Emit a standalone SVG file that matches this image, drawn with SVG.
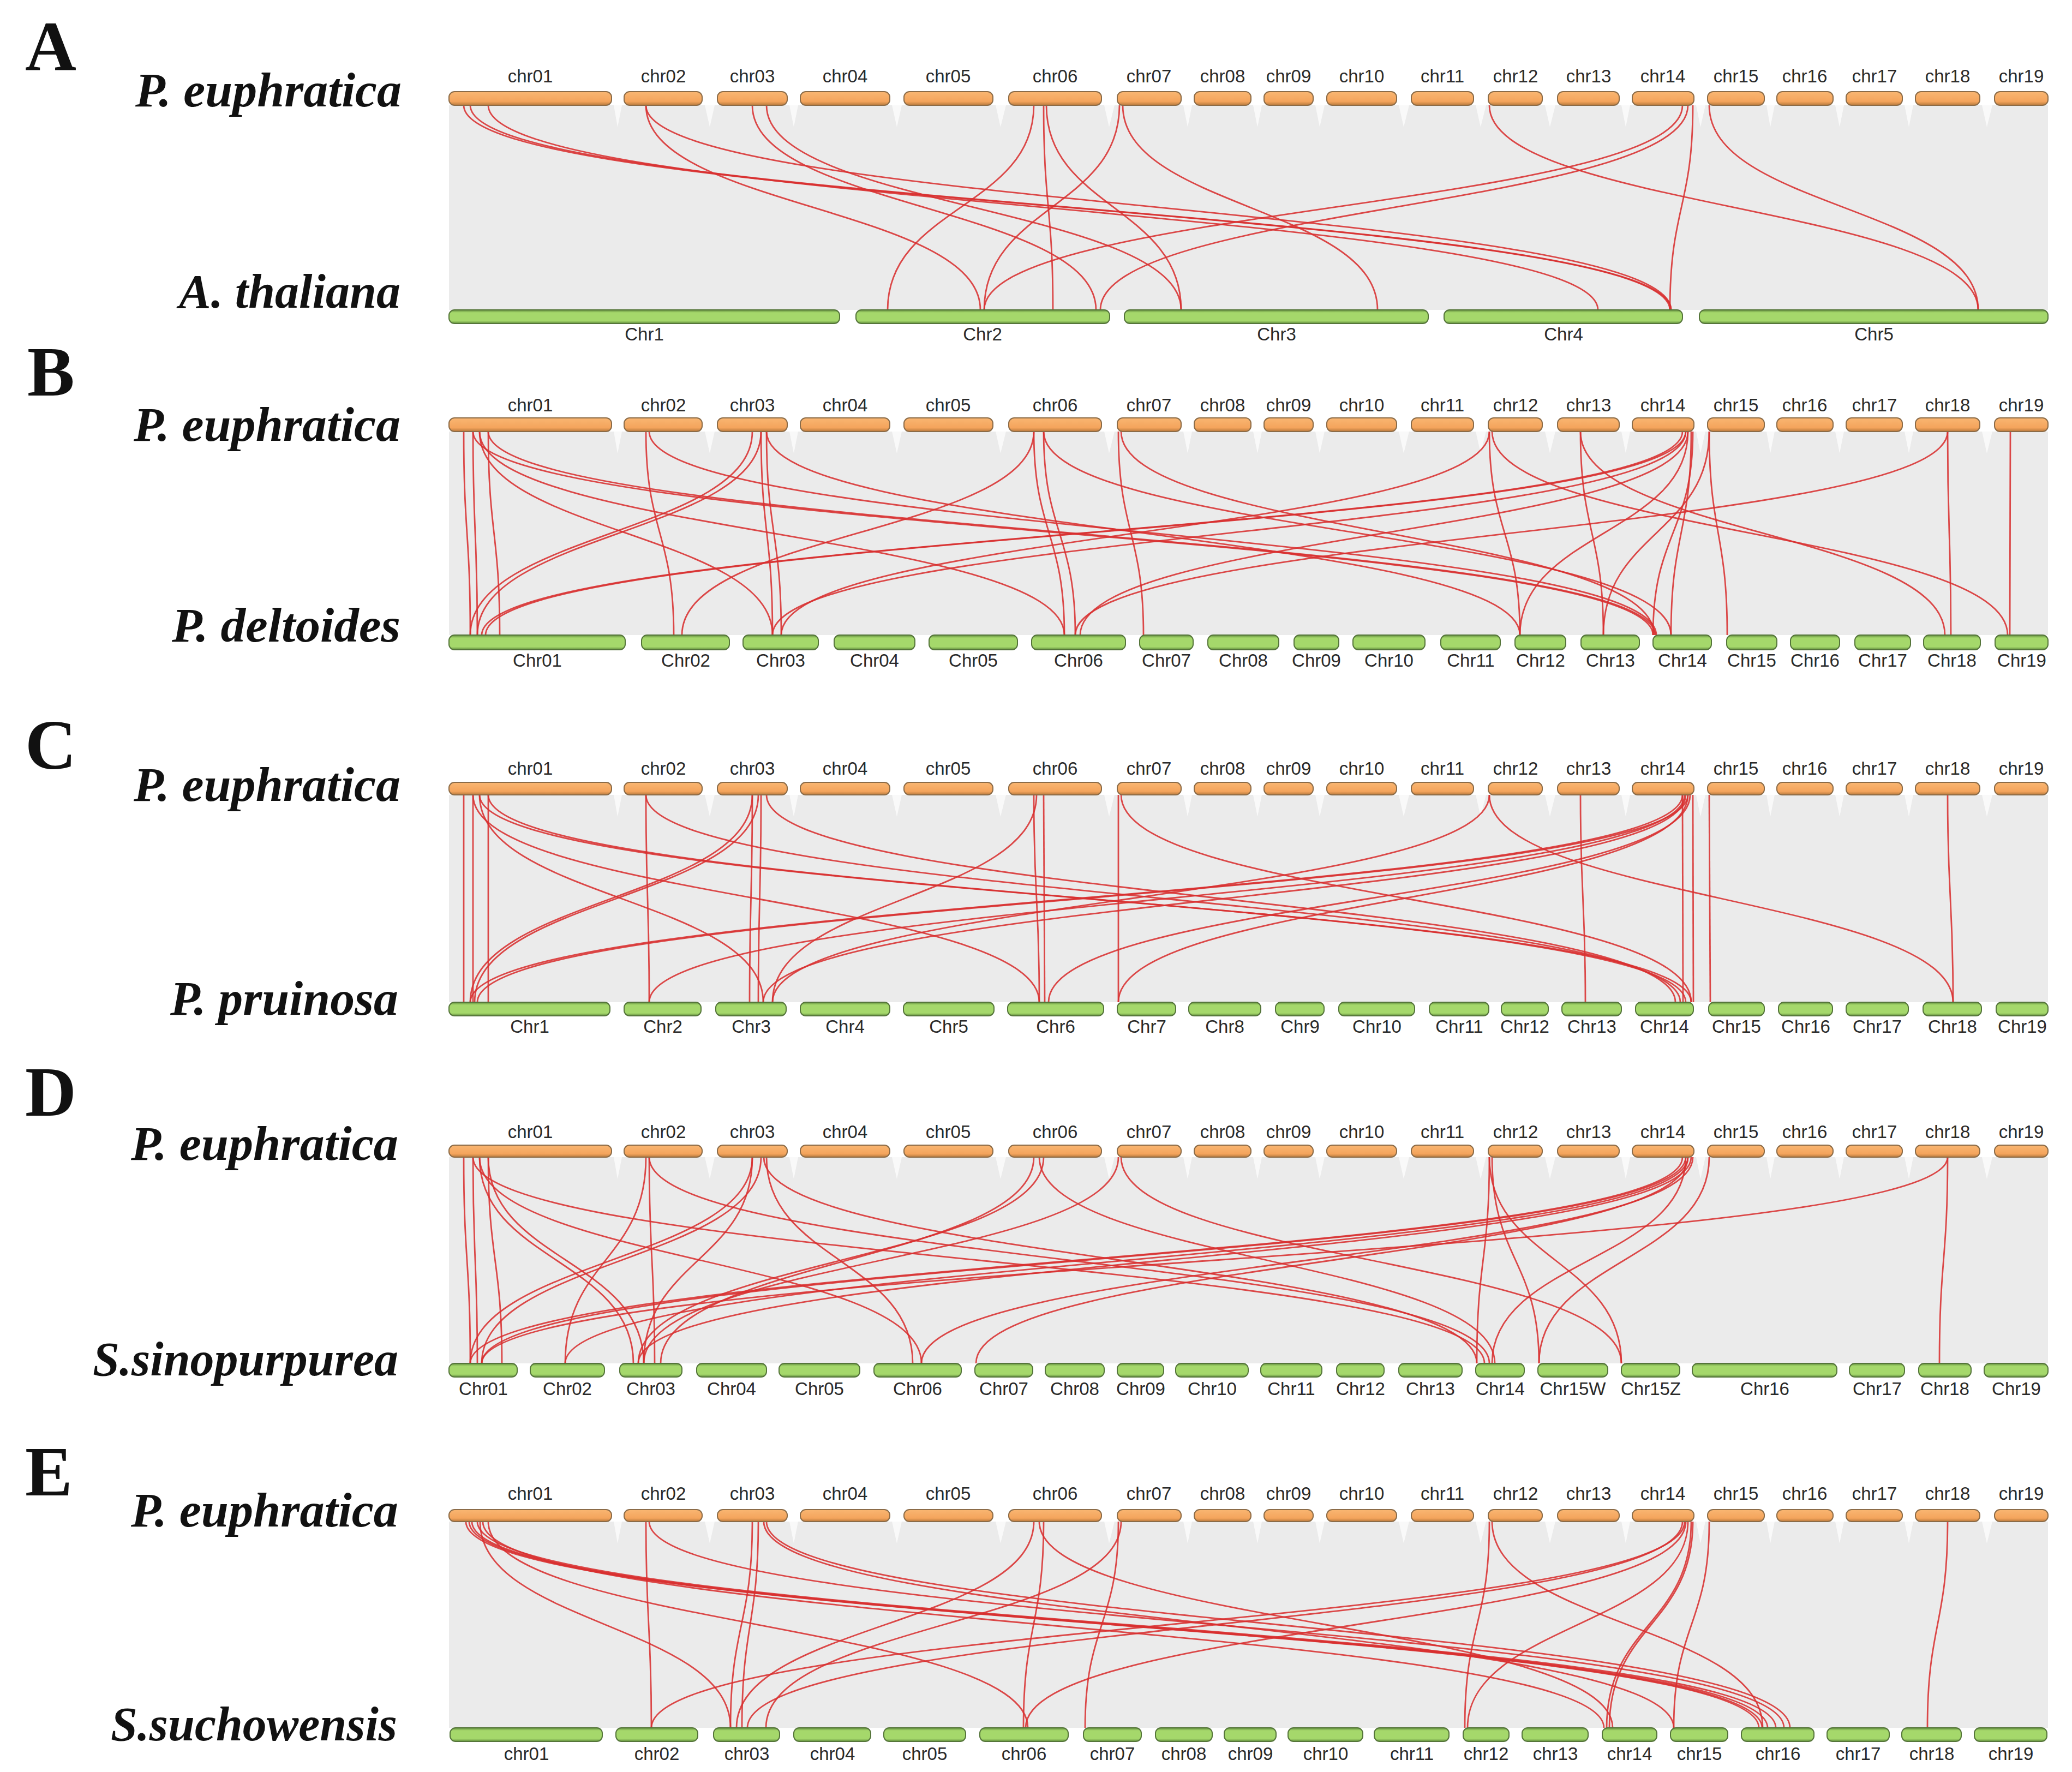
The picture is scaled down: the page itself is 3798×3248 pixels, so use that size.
<svg xmlns="http://www.w3.org/2000/svg" width="3798" height="3248" viewBox="0 0 3798 3248">
<defs>
<linearGradient id="og" x1="0" y1="0" x2="0" y2="1"><stop offset="0" stop-color="#f9b672"/><stop offset="0.72" stop-color="#f4a45c"/><stop offset="1" stop-color="#b87a3d"/></linearGradient>
<linearGradient id="gg" x1="0" y1="0" x2="0" y2="1"><stop offset="0" stop-color="#5f8b3c"/><stop offset="0.2" stop-color="#a5d86b"/><stop offset="0.8" stop-color="#a5d86b"/><stop offset="1" stop-color="#5f8b3c"/></linearGradient>
<g id="tw" fill="#ffffff" opacity="0.7">
<polygon points="1125,0 1140,0 1132,40"/><polygon points="1292,0 1310,0 1301,40"/><polygon points="1447,0 1463,0 1455,40"/><polygon points="1635,0 1653,0 1644,40"/><polygon points="1825,0 1844,0 1834,40"/><polygon points="2024,0 2043,0 2033,40"/><polygon points="2169,0 2185,0 2177,40"/><polygon points="2297,0 2313,0 2305,40"/><polygon points="2411,0 2428,0 2419,40"/><polygon points="2564,0 2583,0 2573,40"/><polygon points="2705,0 2724,0 2714,40"/><polygon points="2832,0 2851,0 2841,40"/><polygon points="2972,0 2988,0 2980,40"/><polygon points="3109,0 3126,0 3117,40"/><polygon points="3238,0 3253,0 3245,40"/><polygon points="3364,0 3380,0 3372,40"/><polygon points="3491,0 3507,0 3499,40"/><polygon points="3633,0 3652,0 3642,40"/>
</g>
<style>
.l{fill:none;stroke:#d83030;stroke-width:2.8;opacity:.88}
.bg{fill:#ebebeb}
.o{fill:url(#og);stroke:#8b6b47;stroke-width:2}
.g{fill:url(#gg);stroke:#55753a;stroke-width:2}
.cl{font-family:"Liberation Sans",Arial,sans-serif;font-size:33px;fill:#2a2a2a;text-anchor:middle}
.sp{font-family:"Liberation Serif","Times New Roman",serif;font-weight:bold;font-style:italic;font-size:88px;fill:#111;text-anchor:end}
.pl{font-family:"Liberation Serif","Times New Roman",serif;font-weight:bold;font-size:130px;fill:#111}
</style>
</defs>
<rect width="3798" height="3248" fill="#ffffff"/>
<g id="backgrounds">
<rect class="bg" x="823" y="193" width="2931" height="375"/>
<rect class="bg" x="823" y="791" width="2931" height="373"/>
<rect class="bg" x="823" y="1457" width="2931" height="380"/>
<rect class="bg" x="823" y="2121" width="2931" height="378"/>
<rect class="bg" x="823" y="2789" width="2931" height="378"/>
<use href="#tw" y="193"/>
<use href="#tw" y="791"/>
<use href="#tw" y="1457"/>
<use href="#tw" y="2121"/>
<use href="#tw" y="2789"/>
</g>
<g id="labels">
<text class="pl" x="46" y="128">A</text>
<text class="pl" x="50" y="725">B</text>
<text class="pl" x="46" y="1409">C</text>
<text class="pl" x="46" y="2045">D</text>
<text class="pl" x="46" y="2741">E</text>
<text class="sp" x="736" y="195" textLength="488" lengthAdjust="spacingAndGlyphs">P. euphratica</text>
<text class="sp" x="734" y="564" textLength="406" lengthAdjust="spacingAndGlyphs">A. thaliana</text>
<text class="sp" x="734" y="808" textLength="489" lengthAdjust="spacingAndGlyphs">P. euphratica</text>
<text class="sp" x="734" y="1176" textLength="419" lengthAdjust="spacingAndGlyphs">P. deltoides</text>
<text class="sp" x="734" y="1468" textLength="489" lengthAdjust="spacingAndGlyphs">P. euphratica</text>
<text class="sp" x="730" y="1860" textLength="418" lengthAdjust="spacingAndGlyphs">P. pruinosa</text>
<text class="sp" x="730" y="2126" textLength="490" lengthAdjust="spacingAndGlyphs">P. euphratica</text>
<text class="sp" x="730" y="2521" textLength="560" lengthAdjust="spacingAndGlyphs">S.sinopurpurea</text>
<text class="sp" x="730" y="2798" textLength="490" lengthAdjust="spacingAndGlyphs">P. euphratica</text>
<text class="sp" x="728" y="3190" textLength="525" lengthAdjust="spacingAndGlyphs">S.suchowensis</text>
</g>
<g id="connectors">
<path class="l" d="M850 193C850 380 3061 380 3061 568"/>
<path class="l" d="M862 193C862 380 3063 380 3063 568"/>
<path class="l" d="M895 193C895 380 2929 380 2929 568"/>
<path class="l" d="M1184 193C1184 380 3063 380 3063 568"/>
<path class="l" d="M1184 193C1184 380 1797 380 1797 568"/>
<path class="l" d="M1379 193C1379 380 2009 380 2009 568"/>
<path class="l" d="M1405 193C1405 380 2165 380 2165 568"/>
<path class="l" d="M1895 193C1895 380 1627 380 1627 568"/>
<path class="l" d="M1913 193C1913 380 1930 380 1930 568"/>
<path class="l" d="M1918 193C1918 380 2165 380 2165 568"/>
<path class="l" d="M2052 193C2052 380 1804 380 1804 568"/>
<path class="l" d="M2058 193C2058 380 2525 380 2525 568"/>
<path class="l" d="M2730 193C2730 380 3626 380 3626 568"/>
<path class="l" d="M3084 193C3084 380 1804 380 1804 568"/>
<path class="l" d="M3094 193C3094 380 2017 380 2017 568"/>
<path class="l" d="M3103 193C3103 380 3061 380 3061 568"/>
<path class="l" d="M3133 193C3133 380 3626 380 3626 568"/>

<path class="l" d="M850 791C850 977 862 977 862 1164"/>
<path class="l" d="M867 791C867 977 875 977 875 1164"/>
<path class="l" d="M895 791C895 977 916 977 916 1164"/>
<path class="l" d="M879 791C879 977 1416 977 1416 1164"/>
<path class="l" d="M879 791C879 977 1951 977 1951 1164"/>
<path class="l" d="M867 791C867 977 3030 977 3030 1164"/>
<path class="l" d="M895 791C895 977 3034 977 3034 1164"/>
<path class="l" d="M1184 791C1184 977 1235 977 1235 1164"/>
<path class="l" d="M1190 791C1190 977 3036 977 3036 1164"/>
<path class="l" d="M1379 791C1379 977 862 977 862 1164"/>
<path class="l" d="M1395 791C1395 977 875 977 875 1164"/>
<path class="l" d="M1405 791C1405 977 1432 977 1432 1164"/>
<path class="l" d="M1395 791C1395 977 1416 977 1416 1164"/>
<path class="l" d="M1405 791C1405 977 2786 977 2786 1164"/>
<path class="l" d="M1895 791C1895 977 1951 977 1951 1164"/>
<path class="l" d="M1913 791C1913 977 1971 977 1971 1164"/>
<path class="l" d="M1895 791C1895 977 1250 977 1250 1164"/>
<path class="l" d="M1913 791C1913 977 3063 977 3063 1164"/>
<path class="l" d="M2050 791C2050 977 2096 977 2096 1164"/>
<path class="l" d="M2055 791C2055 977 3032 977 3032 1164"/>
<path class="l" d="M2730 791C2730 977 2786 977 2786 1164"/>
<path class="l" d="M2730 791C2730 977 1432 977 1432 1164"/>
<path class="l" d="M2897 791C2897 977 2939 977 2939 1164"/>
<path class="l" d="M2897 791C2897 977 3565 977 3565 1164"/>
<path class="l" d="M3084 791C3084 977 883 977 883 1164"/>
<path class="l" d="M3090 791C3090 977 890 977 890 1164"/>
<path class="l" d="M3094 791C3094 977 1980 977 1980 1164"/>
<path class="l" d="M3103 791C3103 977 3030 977 3030 1164"/>
<path class="l" d="M3100 791C3100 977 3063 977 3063 1164"/>
<path class="l" d="M3094 791C3094 977 2786 977 2786 1164"/>
<path class="l" d="M3133 791C3133 977 3166 977 3166 1164"/>
<path class="l" d="M3133 791C3133 977 2939 977 2939 1164"/>
<path class="l" d="M3570 791C3570 977 3576 977 3576 1164"/>
<path class="l" d="M3570 791C3570 977 1971 977 1971 1164"/>
<path class="l" d="M3685 791C3685 977 3684 977 3684 1164"/>
<path class="l" d="M2735 791C2735 977 3680 977 3680 1164"/>
<path class="l" d="M3090 791C3090 977 1416 977 1416 1164"/>

<path class="l" d="M850 1457C850 1647 850 1647 850 1837"/>
<path class="l" d="M867 1457C867 1647 867 1647 867 1837"/>
<path class="l" d="M895 1457C895 1647 895 1647 895 1837"/>
<path class="l" d="M879 1457C879 1647 3100 1647 3100 1837"/>
<path class="l" d="M879 1457C879 1647 1399 1647 1399 1837"/>
<path class="l" d="M895 1457C895 1647 3090 1647 3090 1837"/>
<path class="l" d="M1184 1457C1184 1647 1190 1647 1190 1837"/>
<path class="l" d="M1184 1457C1184 1647 3080 1647 3080 1837"/>
<path class="l" d="M1379 1457C1379 1647 1374 1647 1374 1837"/>
<path class="l" d="M1395 1457C1395 1647 1390 1647 1390 1837"/>
<path class="l" d="M1379 1457C1379 1647 862 1647 862 1837"/>
<path class="l" d="M1390 1457C1390 1647 870 1647 870 1837"/>
<path class="l" d="M1405 1457C1405 1647 3071 1647 3071 1837"/>
<path class="l" d="M1895 1457C1895 1647 1905 1647 1905 1837"/>
<path class="l" d="M1913 1457C1913 1647 1915 1647 1915 1837"/>
<path class="l" d="M1900 1457C1900 1647 1416 1647 1416 1837"/>
<path class="l" d="M2050 1457C2050 1647 2050 1647 2050 1837"/>
<path class="l" d="M2055 1457C2055 1647 3100 1647 3100 1837"/>
<path class="l" d="M2730 1457C2730 1647 1416 1647 1416 1837"/>
<path class="l" d="M2897 1457C2897 1647 2906 1647 2906 1837"/>
<path class="l" d="M3084 1457C3084 1647 862 1647 862 1837"/>
<path class="l" d="M3094 1457C3094 1647 875 1647 875 1837"/>
<path class="l" d="M3094 1457C3094 1647 2050 1647 2050 1837"/>
<path class="l" d="M3103 1457C3103 1647 3104 1647 3104 1837"/>
<path class="l" d="M3084 1457C3084 1647 3085 1647 3085 1837"/>
<path class="l" d="M3133 1457C3133 1647 3135 1647 3135 1837"/>
<path class="l" d="M3570 1457C3570 1647 3580 1647 3580 1837"/>
<path class="l" d="M2730 1457C2730 1647 3580 1647 3580 1837"/>
<path class="l" d="M3090 1457C3090 1647 1399 1647 1399 1837"/>
<path class="l" d="M867 1457C867 1647 1905 1647 1905 1837"/>
<path class="l" d="M3098 1457C3098 1647 1922 1647 1922 1837"/>
<path class="l" d="M3088 1457C3088 1647 1190 1647 1190 1837"/>

<path class="l" d="M850 2121C850 2310 862 2310 862 2499"/>
<path class="l" d="M867 2121C867 2310 875 2310 875 2499"/>
<path class="l" d="M879 2121C879 2310 1161 2310 1161 2499"/>
<path class="l" d="M895 2121C895 2310 1180 2310 1180 2499"/>
<path class="l" d="M879 2121C879 2310 1689 2310 1689 2499"/>
<path class="l" d="M895 2121C895 2310 920 2310 920 2499"/>
<path class="l" d="M867 2121C867 2310 2721 2310 2721 2499"/>
<path class="l" d="M1184 2121C1184 2310 1036 2310 1036 2499"/>
<path class="l" d="M1190 2121C1190 2310 1200 2310 1200 2499"/>
<path class="l" d="M1190 2121C1190 2310 2730 2310 2730 2499"/>
<path class="l" d="M1379 2121C1379 2310 862 2310 862 2499"/>
<path class="l" d="M1395 2121C1395 2310 883 2310 883 2499"/>
<path class="l" d="M1405 2121C1405 2310 1673 2310 1673 2499"/>
<path class="l" d="M1400 2121C1400 2310 2707 2310 2707 2499"/>
<path class="l" d="M1895 2121C1895 2310 1211 2310 1211 2499"/>
<path class="l" d="M1913 2121C1913 2310 1170 2310 1170 2499"/>
<path class="l" d="M1905 2121C1905 2310 2740 2310 2740 2499"/>
<path class="l" d="M2050 2121C2050 2310 1180 2310 1180 2499"/>
<path class="l" d="M2055 2121C2055 2310 2972 2310 2972 2499"/>
<path class="l" d="M2730 2121C2730 2310 2707 2310 2707 2499"/>
<path class="l" d="M2730 2121C2730 2310 2972 2310 2972 2499"/>
<path class="l" d="M2735 2121C2735 2310 2821 2310 2821 2499"/>
<path class="l" d="M3084 2121C3084 2310 862 2310 862 2499"/>
<path class="l" d="M3090 2121C3090 2310 883 2310 883 2499"/>
<path class="l" d="M3094 2121C3094 2310 1036 2310 1036 2499"/>
<path class="l" d="M3100 2121C3100 2310 1170 2310 1170 2499"/>
<path class="l" d="M3103 2121C3103 2310 1689 2310 1689 2499"/>
<path class="l" d="M3094 2121C3094 2310 1789 2310 1789 2499"/>
<path class="l" d="M3090 2121C3090 2310 2735 2310 2735 2499"/>
<path class="l" d="M3133 2121C3133 2310 2821 2310 2821 2499"/>
<path class="l" d="M3570 2121C3570 2310 3555 2310 3555 2499"/>
<path class="l" d="M3570 2121C3570 2310 883 2310 883 2499"/>
<path class="l" d="M1379 2121C1379 2310 1180 2310 1180 2499"/>

<path class="l" d="M854 2789C854 2978 3224 2978 3224 3167"/>
<path class="l" d="M860 2789C860 2978 3230 2978 3230 3167"/>
<path class="l" d="M865 2789C865 2978 3240 2978 3240 3167"/>
<path class="l" d="M875 2789C875 2978 3255 2978 3255 3167"/>
<path class="l" d="M880 2789C880 2978 1339 2978 1339 3167"/>
<path class="l" d="M895 2789C895 2978 1884 2978 1884 3167"/>
<path class="l" d="M885 2789C885 2978 2940 2978 2940 3167"/>
<path class="l" d="M1184 2789C1184 2978 1194 2978 1194 3167"/>
<path class="l" d="M1190 2789C1190 2978 3270 2978 3270 3167"/>
<path class="l" d="M1379 2789C1379 2978 1339 2978 1339 3167"/>
<path class="l" d="M1390 2789C1390 2978 1360 2978 1360 3167"/>
<path class="l" d="M1405 2789C1405 2978 3281 2978 3281 3167"/>
<path class="l" d="M1400 2789C1400 2978 3068 2978 3068 3167"/>
<path class="l" d="M1895 2789C1895 2978 1350 2978 1350 3167"/>
<path class="l" d="M1913 2789C1913 2978 1876 2978 1876 3167"/>
<path class="l" d="M1905 2789C1905 2978 2956 2978 2956 3167"/>
<path class="l" d="M2050 2789C2050 2978 1989 2978 1989 3167"/>
<path class="l" d="M2055 2789C2055 2978 1404 2978 1404 3167"/>
<path class="l" d="M2730 2789C2730 2978 2685 2978 2685 3167"/>
<path class="l" d="M2735 2789C2735 2978 3231 2978 3231 3167"/>
<path class="l" d="M3084 2789C3084 2978 1370 2978 1370 3167"/>
<path class="l" d="M3090 2789C3090 2978 1880 2978 1880 3167"/>
<path class="l" d="M3094 2789C3094 2978 2690 2978 2690 3167"/>
<path class="l" d="M3100 2789C3100 2978 2945 2978 2945 3167"/>
<path class="l" d="M3103 2789C3103 2978 2950 2978 2950 3167"/>
<path class="l" d="M3133 2789C3133 2978 3068 2978 3068 3167"/>
<path class="l" d="M3570 2789C3570 2978 3533 2978 3533 3167"/>
<path class="l" d="M3088 2789C3088 2978 1194 2978 1194 3167"/>
</g>

<!-- Panel A top -->
<g id="A-top-chr01"><rect class="o" x="823" y="168" width="298" height="25" rx="10"/><text class="cl" x="972" y="151">chr01</text></g>
<g id="A-top-chr02"><rect class="o" x="1144" y="168" width="143" height="25" rx="10"/><text class="cl" x="1216" y="151">chr02</text></g>
<g id="A-top-chr03"><rect class="o" x="1315" y="168" width="128" height="25" rx="10"/><text class="cl" x="1379" y="151">chr03</text></g>
<g id="A-top-chr04"><rect class="o" x="1467" y="168" width="164" height="25" rx="10"/><text class="cl" x="1549" y="151">chr04</text></g>
<g id="A-top-chr05"><rect class="o" x="1657" y="168" width="163" height="25" rx="10"/><text class="cl" x="1738" y="151">chr05</text></g>
<g id="A-top-chr06"><rect class="o" x="1849" y="168" width="170" height="25" rx="10"/><text class="cl" x="1934" y="151">chr06</text></g>
<g id="A-top-chr07"><rect class="o" x="2048" y="168" width="117" height="25" rx="10"/><text class="cl" x="2106" y="151">chr07</text></g>
<g id="A-top-chr08"><rect class="o" x="2189" y="168" width="104" height="25" rx="10"/><text class="cl" x="2241" y="151">chr08</text></g>
<g id="A-top-chr09"><rect class="o" x="2317" y="168" width="90" height="25" rx="10"/><text class="cl" x="2362" y="151">chr09</text></g>
<g id="A-top-chr10"><rect class="o" x="2432" y="168" width="128" height="25" rx="10"/><text class="cl" x="2496" y="151">chr10</text></g>
<g id="A-top-chr11"><rect class="o" x="2587" y="168" width="114" height="25" rx="10"/><text class="cl" x="2644" y="151">chr11</text></g>
<g id="A-top-chr12"><rect class="o" x="2728" y="168" width="99" height="25" rx="10"/><text class="cl" x="2778" y="151">chr12</text></g>
<g id="A-top-chr13"><rect class="o" x="2855" y="168" width="113" height="25" rx="10"/><text class="cl" x="2912" y="151">chr13</text></g>
<g id="A-top-chr14"><rect class="o" x="2992" y="168" width="113" height="25" rx="10"/><text class="cl" x="3048" y="151">chr14</text></g>
<g id="A-top-chr15"><rect class="o" x="3130" y="168" width="104" height="25" rx="10"/><text class="cl" x="3182" y="151">chr15</text></g>
<g id="A-top-chr16"><rect class="o" x="3257" y="168" width="103" height="25" rx="10"/><text class="cl" x="3308" y="151">chr16</text></g>
<g id="A-top-chr17"><rect class="o" x="3384" y="168" width="103" height="25" rx="10"/><text class="cl" x="3436" y="151">chr17</text></g>
<g id="A-top-chr18"><rect class="o" x="3511" y="168" width="118" height="25" rx="10"/><text class="cl" x="3570" y="151">chr18</text></g>
<g id="A-top-chr19"><rect class="o" x="3656" y="168" width="98" height="25" rx="10"/><text class="cl" x="3705" y="151">chr19</text></g>
<!-- Panel A bottom -->
<g id="A-bot-Chr1"><rect class="g" x="823" y="568" width="716" height="25" rx="10"/><text class="cl" x="1181" y="624">Chr1</text></g>
<g id="A-bot-Chr2"><rect class="g" x="1569" y="568" width="465" height="25" rx="10"/><text class="cl" x="1801" y="624">Chr2</text></g>
<g id="A-bot-Chr3"><rect class="g" x="2061" y="568" width="557" height="25" rx="10"/><text class="cl" x="2340" y="624">Chr3</text></g>
<g id="A-bot-Chr4"><rect class="g" x="2647" y="568" width="437" height="25" rx="10"/><text class="cl" x="2866" y="624">Chr4</text></g>
<g id="A-bot-Chr5"><rect class="g" x="3115" y="568" width="639" height="25" rx="10"/><text class="cl" x="3435" y="624">Chr5</text></g>

<!-- Panel B top -->
<g id="B-top-chr01"><rect class="o" x="823" y="766" width="298" height="25" rx="10"/><text class="cl" x="972" y="754">chr01</text></g>
<g id="B-top-chr02"><rect class="o" x="1144" y="766" width="143" height="25" rx="10"/><text class="cl" x="1216" y="754">chr02</text></g>
<g id="B-top-chr03"><rect class="o" x="1315" y="766" width="128" height="25" rx="10"/><text class="cl" x="1379" y="754">chr03</text></g>
<g id="B-top-chr04"><rect class="o" x="1467" y="766" width="164" height="25" rx="10"/><text class="cl" x="1549" y="754">chr04</text></g>
<g id="B-top-chr05"><rect class="o" x="1657" y="766" width="163" height="25" rx="10"/><text class="cl" x="1738" y="754">chr05</text></g>
<g id="B-top-chr06"><rect class="o" x="1849" y="766" width="170" height="25" rx="10"/><text class="cl" x="1934" y="754">chr06</text></g>
<g id="B-top-chr07"><rect class="o" x="2048" y="766" width="117" height="25" rx="10"/><text class="cl" x="2106" y="754">chr07</text></g>
<g id="B-top-chr08"><rect class="o" x="2189" y="766" width="104" height="25" rx="10"/><text class="cl" x="2241" y="754">chr08</text></g>
<g id="B-top-chr09"><rect class="o" x="2317" y="766" width="90" height="25" rx="10"/><text class="cl" x="2362" y="754">chr09</text></g>
<g id="B-top-chr10"><rect class="o" x="2432" y="766" width="128" height="25" rx="10"/><text class="cl" x="2496" y="754">chr10</text></g>
<g id="B-top-chr11"><rect class="o" x="2587" y="766" width="114" height="25" rx="10"/><text class="cl" x="2644" y="754">chr11</text></g>
<g id="B-top-chr12"><rect class="o" x="2728" y="766" width="99" height="25" rx="10"/><text class="cl" x="2778" y="754">chr12</text></g>
<g id="B-top-chr13"><rect class="o" x="2855" y="766" width="113" height="25" rx="10"/><text class="cl" x="2912" y="754">chr13</text></g>
<g id="B-top-chr14"><rect class="o" x="2992" y="766" width="113" height="25" rx="10"/><text class="cl" x="3048" y="754">chr14</text></g>
<g id="B-top-chr15"><rect class="o" x="3130" y="766" width="104" height="25" rx="10"/><text class="cl" x="3182" y="754">chr15</text></g>
<g id="B-top-chr16"><rect class="o" x="3257" y="766" width="103" height="25" rx="10"/><text class="cl" x="3308" y="754">chr16</text></g>
<g id="B-top-chr17"><rect class="o" x="3384" y="766" width="103" height="25" rx="10"/><text class="cl" x="3436" y="754">chr17</text></g>
<g id="B-top-chr18"><rect class="o" x="3511" y="766" width="118" height="25" rx="10"/><text class="cl" x="3570" y="754">chr18</text></g>
<g id="B-top-chr19"><rect class="o" x="3656" y="766" width="98" height="25" rx="10"/><text class="cl" x="3705" y="754">chr19</text></g>
<!-- Panel B bottom -->
<g id="B-bot-Chr01"><rect class="g" x="823" y="1164" width="323" height="27" rx="10"/><text class="cl" x="985" y="1222">Chr01</text></g>
<g id="B-bot-Chr02"><rect class="g" x="1176" y="1164" width="161" height="27" rx="10"/><text class="cl" x="1257" y="1222">Chr02</text></g>
<g id="B-bot-Chr03"><rect class="g" x="1362" y="1164" width="138" height="27" rx="10"/><text class="cl" x="1431" y="1222">Chr03</text></g>
<g id="B-bot-Chr04"><rect class="g" x="1529" y="1164" width="148" height="27" rx="10"/><text class="cl" x="1603" y="1222">Chr04</text></g>
<g id="B-bot-Chr05"><rect class="g" x="1703" y="1164" width="162" height="27" rx="10"/><text class="cl" x="1784" y="1222">Chr05</text></g>
<g id="B-bot-Chr06"><rect class="g" x="1891" y="1164" width="172" height="27" rx="10"/><text class="cl" x="1977" y="1222">Chr06</text></g>
<g id="B-bot-Chr07"><rect class="g" x="2089" y="1164" width="98" height="27" rx="10"/><text class="cl" x="2138" y="1222">Chr07</text></g>
<g id="B-bot-Chr08"><rect class="g" x="2214" y="1164" width="130" height="27" rx="10"/><text class="cl" x="2279" y="1222">Chr08</text></g>
<g id="B-bot-Chr09"><rect class="g" x="2372" y="1164" width="82" height="27" rx="10"/><text class="cl" x="2413" y="1222">Chr09</text></g>
<g id="B-bot-Chr10"><rect class="g" x="2480" y="1164" width="132" height="27" rx="10"/><text class="cl" x="2546" y="1222">Chr10</text></g>
<g id="B-bot-Chr11"><rect class="g" x="2641" y="1164" width="109" height="27" rx="10"/><text class="cl" x="2696" y="1222">Chr11</text></g>
<g id="B-bot-Chr12"><rect class="g" x="2777" y="1164" width="93" height="27" rx="10"/><text class="cl" x="2824" y="1222">Chr12</text></g>
<g id="B-bot-Chr13"><rect class="g" x="2898" y="1164" width="107" height="27" rx="10"/><text class="cl" x="2952" y="1222">Chr13</text></g>
<g id="B-bot-Chr14"><rect class="g" x="3030" y="1164" width="107" height="27" rx="10"/><text class="cl" x="3084" y="1222">Chr14</text></g>
<g id="B-bot-Chr15"><rect class="g" x="3165" y="1164" width="92" height="27" rx="10"/><text class="cl" x="3211" y="1222">Chr15</text></g>
<g id="B-bot-Chr16"><rect class="g" x="3282" y="1164" width="90" height="27" rx="10"/><text class="cl" x="3327" y="1222">Chr16</text></g>
<g id="B-bot-Chr17"><rect class="g" x="3400" y="1164" width="102" height="27" rx="10"/><text class="cl" x="3451" y="1222">Chr17</text></g>
<g id="B-bot-Chr18"><rect class="g" x="3526" y="1164" width="104" height="27" rx="10"/><text class="cl" x="3578" y="1222">Chr18</text></g>
<g id="B-bot-Chr19"><rect class="g" x="3657" y="1164" width="97" height="27" rx="10"/><text class="cl" x="3706" y="1222">Chr19</text></g>

<!-- Panel C top -->
<g id="C-top-chr01"><rect class="o" x="823" y="1434" width="298" height="23" rx="10"/><text class="cl" x="972" y="1420">chr01</text></g>
<g id="C-top-chr02"><rect class="o" x="1144" y="1434" width="143" height="23" rx="10"/><text class="cl" x="1216" y="1420">chr02</text></g>
<g id="C-top-chr03"><rect class="o" x="1315" y="1434" width="128" height="23" rx="10"/><text class="cl" x="1379" y="1420">chr03</text></g>
<g id="C-top-chr04"><rect class="o" x="1467" y="1434" width="164" height="23" rx="10"/><text class="cl" x="1549" y="1420">chr04</text></g>
<g id="C-top-chr05"><rect class="o" x="1657" y="1434" width="163" height="23" rx="10"/><text class="cl" x="1738" y="1420">chr05</text></g>
<g id="C-top-chr06"><rect class="o" x="1849" y="1434" width="170" height="23" rx="10"/><text class="cl" x="1934" y="1420">chr06</text></g>
<g id="C-top-chr07"><rect class="o" x="2048" y="1434" width="117" height="23" rx="10"/><text class="cl" x="2106" y="1420">chr07</text></g>
<g id="C-top-chr08"><rect class="o" x="2189" y="1434" width="104" height="23" rx="10"/><text class="cl" x="2241" y="1420">chr08</text></g>
<g id="C-top-chr09"><rect class="o" x="2317" y="1434" width="90" height="23" rx="10"/><text class="cl" x="2362" y="1420">chr09</text></g>
<g id="C-top-chr10"><rect class="o" x="2432" y="1434" width="128" height="23" rx="10"/><text class="cl" x="2496" y="1420">chr10</text></g>
<g id="C-top-chr11"><rect class="o" x="2587" y="1434" width="114" height="23" rx="10"/><text class="cl" x="2644" y="1420">chr11</text></g>
<g id="C-top-chr12"><rect class="o" x="2728" y="1434" width="99" height="23" rx="10"/><text class="cl" x="2778" y="1420">chr12</text></g>
<g id="C-top-chr13"><rect class="o" x="2855" y="1434" width="113" height="23" rx="10"/><text class="cl" x="2912" y="1420">chr13</text></g>
<g id="C-top-chr14"><rect class="o" x="2992" y="1434" width="113" height="23" rx="10"/><text class="cl" x="3048" y="1420">chr14</text></g>
<g id="C-top-chr15"><rect class="o" x="3130" y="1434" width="104" height="23" rx="10"/><text class="cl" x="3182" y="1420">chr15</text></g>
<g id="C-top-chr16"><rect class="o" x="3257" y="1434" width="103" height="23" rx="10"/><text class="cl" x="3308" y="1420">chr16</text></g>
<g id="C-top-chr17"><rect class="o" x="3384" y="1434" width="103" height="23" rx="10"/><text class="cl" x="3436" y="1420">chr17</text></g>
<g id="C-top-chr18"><rect class="o" x="3511" y="1434" width="118" height="23" rx="10"/><text class="cl" x="3570" y="1420">chr18</text></g>
<g id="C-top-chr19"><rect class="o" x="3656" y="1434" width="98" height="23" rx="10"/><text class="cl" x="3705" y="1420">chr19</text></g>
<!-- Panel C bottom -->
<g id="C-bot-Chr1"><rect class="g" x="823" y="1837" width="295" height="25" rx="10"/><text class="cl" x="971" y="1893">Chr1</text></g>
<g id="C-bot-Chr2"><rect class="g" x="1144" y="1837" width="141" height="25" rx="10"/><text class="cl" x="1215" y="1893">Chr2</text></g>
<g id="C-bot-Chr3"><rect class="g" x="1312" y="1837" width="129" height="25" rx="10"/><text class="cl" x="1377" y="1893">Chr3</text></g>
<g id="C-bot-Chr4"><rect class="g" x="1467" y="1837" width="164" height="25" rx="10"/><text class="cl" x="1549" y="1893">Chr4</text></g>
<g id="C-bot-Chr5"><rect class="g" x="1656" y="1837" width="166" height="25" rx="10"/><text class="cl" x="1739" y="1893">Chr5</text></g>
<g id="C-bot-Chr6"><rect class="g" x="1847" y="1837" width="176" height="25" rx="10"/><text class="cl" x="1935" y="1893">Chr6</text></g>
<g id="C-bot-Chr7"><rect class="g" x="2048" y="1837" width="107" height="25" rx="10"/><text class="cl" x="2102" y="1893">Chr7</text></g>
<g id="C-bot-Chr8"><rect class="g" x="2179" y="1837" width="132" height="25" rx="10"/><text class="cl" x="2245" y="1893">Chr8</text></g>
<g id="C-bot-Chr9"><rect class="g" x="2338" y="1837" width="89" height="25" rx="10"/><text class="cl" x="2383" y="1893">Chr9</text></g>
<g id="C-bot-Chr10"><rect class="g" x="2454" y="1837" width="139" height="25" rx="10"/><text class="cl" x="2524" y="1893">Chr10</text></g>
<g id="C-bot-Chr11"><rect class="g" x="2620" y="1837" width="109" height="25" rx="10"/><text class="cl" x="2675" y="1893">Chr11</text></g>
<g id="C-bot-Chr12"><rect class="g" x="2752" y="1837" width="86" height="25" rx="10"/><text class="cl" x="2795" y="1893">Chr12</text></g>
<g id="C-bot-Chr13"><rect class="g" x="2863" y="1837" width="109" height="25" rx="10"/><text class="cl" x="2918" y="1893">Chr13</text></g>
<g id="C-bot-Chr14"><rect class="g" x="2998" y="1837" width="106" height="25" rx="10"/><text class="cl" x="3051" y="1893">Chr14</text></g>
<g id="C-bot-Chr15"><rect class="g" x="3132" y="1837" width="102" height="25" rx="10"/><text class="cl" x="3183" y="1893">Chr15</text></g>
<g id="C-bot-Chr16"><rect class="g" x="3260" y="1837" width="99" height="25" rx="10"/><text class="cl" x="3310" y="1893">Chr16</text></g>
<g id="C-bot-Chr17"><rect class="g" x="3384" y="1837" width="114" height="25" rx="10"/><text class="cl" x="3441" y="1893">Chr17</text></g>
<g id="C-bot-Chr18"><rect class="g" x="3525" y="1837" width="107" height="25" rx="10"/><text class="cl" x="3579" y="1893">Chr18</text></g>
<g id="C-bot-Chr19"><rect class="g" x="3659" y="1837" width="95" height="25" rx="10"/><text class="cl" x="3707" y="1893">Chr19</text></g>

<!-- Panel D top -->
<g id="D-top-chr01"><rect class="o" x="823" y="2099" width="298" height="22" rx="10"/><text class="cl" x="972" y="2086">chr01</text></g>
<g id="D-top-chr02"><rect class="o" x="1144" y="2099" width="143" height="22" rx="10"/><text class="cl" x="1216" y="2086">chr02</text></g>
<g id="D-top-chr03"><rect class="o" x="1315" y="2099" width="128" height="22" rx="10"/><text class="cl" x="1379" y="2086">chr03</text></g>
<g id="D-top-chr04"><rect class="o" x="1467" y="2099" width="164" height="22" rx="10"/><text class="cl" x="1549" y="2086">chr04</text></g>
<g id="D-top-chr05"><rect class="o" x="1657" y="2099" width="163" height="22" rx="10"/><text class="cl" x="1738" y="2086">chr05</text></g>
<g id="D-top-chr06"><rect class="o" x="1849" y="2099" width="170" height="22" rx="10"/><text class="cl" x="1934" y="2086">chr06</text></g>
<g id="D-top-chr07"><rect class="o" x="2048" y="2099" width="117" height="22" rx="10"/><text class="cl" x="2106" y="2086">chr07</text></g>
<g id="D-top-chr08"><rect class="o" x="2189" y="2099" width="104" height="22" rx="10"/><text class="cl" x="2241" y="2086">chr08</text></g>
<g id="D-top-chr09"><rect class="o" x="2317" y="2099" width="90" height="22" rx="10"/><text class="cl" x="2362" y="2086">chr09</text></g>
<g id="D-top-chr10"><rect class="o" x="2432" y="2099" width="128" height="22" rx="10"/><text class="cl" x="2496" y="2086">chr10</text></g>
<g id="D-top-chr11"><rect class="o" x="2587" y="2099" width="114" height="22" rx="10"/><text class="cl" x="2644" y="2086">chr11</text></g>
<g id="D-top-chr12"><rect class="o" x="2728" y="2099" width="99" height="22" rx="10"/><text class="cl" x="2778" y="2086">chr12</text></g>
<g id="D-top-chr13"><rect class="o" x="2855" y="2099" width="113" height="22" rx="10"/><text class="cl" x="2912" y="2086">chr13</text></g>
<g id="D-top-chr14"><rect class="o" x="2992" y="2099" width="113" height="22" rx="10"/><text class="cl" x="3048" y="2086">chr14</text></g>
<g id="D-top-chr15"><rect class="o" x="3130" y="2099" width="104" height="22" rx="10"/><text class="cl" x="3182" y="2086">chr15</text></g>
<g id="D-top-chr16"><rect class="o" x="3257" y="2099" width="103" height="22" rx="10"/><text class="cl" x="3308" y="2086">chr16</text></g>
<g id="D-top-chr17"><rect class="o" x="3384" y="2099" width="103" height="22" rx="10"/><text class="cl" x="3436" y="2086">chr17</text></g>
<g id="D-top-chr18"><rect class="o" x="3511" y="2099" width="118" height="22" rx="10"/><text class="cl" x="3570" y="2086">chr18</text></g>
<g id="D-top-chr19"><rect class="o" x="3656" y="2099" width="98" height="22" rx="10"/><text class="cl" x="3705" y="2086">chr19</text></g>
<!-- Panel D bottom -->
<g id="D-bot-Chr01"><rect class="g" x="823" y="2499" width="125" height="25" rx="10"/><text class="cl" x="886" y="2557">Chr01</text></g>
<g id="D-bot-Chr02"><rect class="g" x="972" y="2499" width="136" height="25" rx="10"/><text class="cl" x="1040" y="2557">Chr02</text></g>
<g id="D-bot-Chr03"><rect class="g" x="1136" y="2499" width="114" height="25" rx="10"/><text class="cl" x="1193" y="2557">Chr03</text></g>
<g id="D-bot-Chr04"><rect class="g" x="1277" y="2499" width="128" height="25" rx="10"/><text class="cl" x="1341" y="2557">Chr04</text></g>
<g id="D-bot-Chr05"><rect class="g" x="1428" y="2499" width="148" height="25" rx="10"/><text class="cl" x="1502" y="2557">Chr05</text></g>
<g id="D-bot-Chr06"><rect class="g" x="1602" y="2499" width="160" height="25" rx="10"/><text class="cl" x="1682" y="2557">Chr06</text></g>
<g id="D-bot-Chr07"><rect class="g" x="1787" y="2499" width="106" height="25" rx="10"/><text class="cl" x="1840" y="2557">Chr07</text></g>
<g id="D-bot-Chr08"><rect class="g" x="1916" y="2499" width="108" height="25" rx="10"/><text class="cl" x="1970" y="2557">Chr08</text></g>
<g id="D-bot-Chr09"><rect class="g" x="2048" y="2499" width="85" height="25" rx="10"/><text class="cl" x="2091" y="2557">Chr09</text></g>
<g id="D-bot-Chr10"><rect class="g" x="2155" y="2499" width="133" height="25" rx="10"/><text class="cl" x="2222" y="2557">Chr10</text></g>
<g id="D-bot-Chr11"><rect class="g" x="2311" y="2499" width="112" height="25" rx="10"/><text class="cl" x="2367" y="2557">Chr11</text></g>
<g id="D-bot-Chr12"><rect class="g" x="2450" y="2499" width="87" height="25" rx="10"/><text class="cl" x="2494" y="2557">Chr12</text></g>
<g id="D-bot-Chr13"><rect class="g" x="2564" y="2499" width="116" height="25" rx="10"/><text class="cl" x="2622" y="2557">Chr13</text></g>
<g id="D-bot-Chr14"><rect class="g" x="2705" y="2499" width="89" height="25" rx="10"/><text class="cl" x="2750" y="2557">Chr14</text></g>
<g id="D-bot-Chr15W"><rect class="g" x="2819" y="2499" width="128" height="25" rx="10"/><text class="cl" x="2883" y="2557">Chr15W</text></g>
<g id="D-bot-Chr15Z"><rect class="g" x="2972" y="2499" width="107" height="25" rx="10"/><text class="cl" x="3026" y="2557">Chr15Z</text></g>
<g id="D-bot-Chr16"><rect class="g" x="3102" y="2499" width="265" height="25" rx="10"/><text class="cl" x="3235" y="2557">Chr16</text></g>
<g id="D-bot-Chr17"><rect class="g" x="3390" y="2499" width="101" height="25" rx="10"/><text class="cl" x="3441" y="2557">Chr17</text></g>
<g id="D-bot-Chr18"><rect class="g" x="3517" y="2499" width="96" height="25" rx="10"/><text class="cl" x="3565" y="2557">Chr18</text></g>
<g id="D-bot-Chr19"><rect class="g" x="3637" y="2499" width="117" height="25" rx="10"/><text class="cl" x="3696" y="2557">Chr19</text></g>

<!-- Panel E top -->
<g id="E-top-chr01"><rect class="o" x="823" y="2767" width="298" height="22" rx="10"/><text class="cl" x="972" y="2749">chr01</text></g>
<g id="E-top-chr02"><rect class="o" x="1144" y="2767" width="143" height="22" rx="10"/><text class="cl" x="1216" y="2749">chr02</text></g>
<g id="E-top-chr03"><rect class="o" x="1315" y="2767" width="128" height="22" rx="10"/><text class="cl" x="1379" y="2749">chr03</text></g>
<g id="E-top-chr04"><rect class="o" x="1467" y="2767" width="164" height="22" rx="10"/><text class="cl" x="1549" y="2749">chr04</text></g>
<g id="E-top-chr05"><rect class="o" x="1657" y="2767" width="163" height="22" rx="10"/><text class="cl" x="1738" y="2749">chr05</text></g>
<g id="E-top-chr06"><rect class="o" x="1849" y="2767" width="170" height="22" rx="10"/><text class="cl" x="1934" y="2749">chr06</text></g>
<g id="E-top-chr07"><rect class="o" x="2048" y="2767" width="117" height="22" rx="10"/><text class="cl" x="2106" y="2749">chr07</text></g>
<g id="E-top-chr08"><rect class="o" x="2189" y="2767" width="104" height="22" rx="10"/><text class="cl" x="2241" y="2749">chr08</text></g>
<g id="E-top-chr09"><rect class="o" x="2317" y="2767" width="90" height="22" rx="10"/><text class="cl" x="2362" y="2749">chr09</text></g>
<g id="E-top-chr10"><rect class="o" x="2432" y="2767" width="128" height="22" rx="10"/><text class="cl" x="2496" y="2749">chr10</text></g>
<g id="E-top-chr11"><rect class="o" x="2587" y="2767" width="114" height="22" rx="10"/><text class="cl" x="2644" y="2749">chr11</text></g>
<g id="E-top-chr12"><rect class="o" x="2728" y="2767" width="99" height="22" rx="10"/><text class="cl" x="2778" y="2749">chr12</text></g>
<g id="E-top-chr13"><rect class="o" x="2855" y="2767" width="113" height="22" rx="10"/><text class="cl" x="2912" y="2749">chr13</text></g>
<g id="E-top-chr14"><rect class="o" x="2992" y="2767" width="113" height="22" rx="10"/><text class="cl" x="3048" y="2749">chr14</text></g>
<g id="E-top-chr15"><rect class="o" x="3130" y="2767" width="104" height="22" rx="10"/><text class="cl" x="3182" y="2749">chr15</text></g>
<g id="E-top-chr16"><rect class="o" x="3257" y="2767" width="103" height="22" rx="10"/><text class="cl" x="3308" y="2749">chr16</text></g>
<g id="E-top-chr17"><rect class="o" x="3384" y="2767" width="103" height="22" rx="10"/><text class="cl" x="3436" y="2749">chr17</text></g>
<g id="E-top-chr18"><rect class="o" x="3511" y="2767" width="118" height="22" rx="10"/><text class="cl" x="3570" y="2749">chr18</text></g>
<g id="E-top-chr19"><rect class="o" x="3656" y="2767" width="98" height="22" rx="10"/><text class="cl" x="3705" y="2749">chr19</text></g>
<!-- Panel E bottom -->
<g id="E-bot-chr01"><rect class="g" x="825" y="3167" width="279" height="25" rx="10"/><text class="cl" x="965" y="3226">chr01</text></g>
<g id="E-bot-chr02"><rect class="g" x="1129" y="3167" width="150" height="25" rx="10"/><text class="cl" x="1204" y="3226">chr02</text></g>
<g id="E-bot-chr03"><rect class="g" x="1308" y="3167" width="121" height="25" rx="10"/><text class="cl" x="1369" y="3226">chr03</text></g>
<g id="E-bot-chr04"><rect class="g" x="1455" y="3167" width="141" height="25" rx="10"/><text class="cl" x="1526" y="3226">chr04</text></g>
<g id="E-bot-chr05"><rect class="g" x="1620" y="3167" width="150" height="25" rx="10"/><text class="cl" x="1695" y="3226">chr05</text></g>
<g id="E-bot-chr06"><rect class="g" x="1796" y="3167" width="162" height="25" rx="10"/><text class="cl" x="1877" y="3226">chr06</text></g>
<g id="E-bot-chr07"><rect class="g" x="1986" y="3167" width="106" height="25" rx="10"/><text class="cl" x="2039" y="3226">chr07</text></g>
<g id="E-bot-chr08"><rect class="g" x="2118" y="3167" width="104" height="25" rx="10"/><text class="cl" x="2170" y="3226">chr08</text></g>
<g id="E-bot-chr09"><rect class="g" x="2244" y="3167" width="95" height="25" rx="10"/><text class="cl" x="2292" y="3226">chr09</text></g>
<g id="E-bot-chr10"><rect class="g" x="2361" y="3167" width="137" height="25" rx="10"/><text class="cl" x="2430" y="3226">chr10</text></g>
<g id="E-bot-chr11"><rect class="g" x="2519" y="3167" width="137" height="25" rx="10"/><text class="cl" x="2588" y="3226">chr11</text></g>
<g id="E-bot-chr12"><rect class="g" x="2682" y="3167" width="84" height="25" rx="10"/><text class="cl" x="2724" y="3226">chr12</text></g>
<g id="E-bot-chr13"><rect class="g" x="2790" y="3167" width="121" height="25" rx="10"/><text class="cl" x="2851" y="3226">chr13</text></g>
<g id="E-bot-chr14"><rect class="g" x="2937" y="3167" width="100" height="25" rx="10"/><text class="cl" x="2987" y="3226">chr14</text></g>
<g id="E-bot-chr15"><rect class="g" x="3062" y="3167" width="105" height="25" rx="10"/><text class="cl" x="3115" y="3226">chr15</text></g>
<g id="E-bot-chr16"><rect class="g" x="3192" y="3167" width="133" height="25" rx="10"/><text class="cl" x="3259" y="3226">chr16</text></g>
<g id="E-bot-chr17"><rect class="g" x="3349" y="3167" width="114" height="25" rx="10"/><text class="cl" x="3406" y="3226">chr17</text></g>
<g id="E-bot-chr18"><rect class="g" x="3486" y="3167" width="109" height="25" rx="10"/><text class="cl" x="3541" y="3226">chr18</text></g>
<g id="E-bot-chr19"><rect class="g" x="3619" y="3167" width="133" height="25" rx="10"/><text class="cl" x="3686" y="3226">chr19</text></g>
</svg>
